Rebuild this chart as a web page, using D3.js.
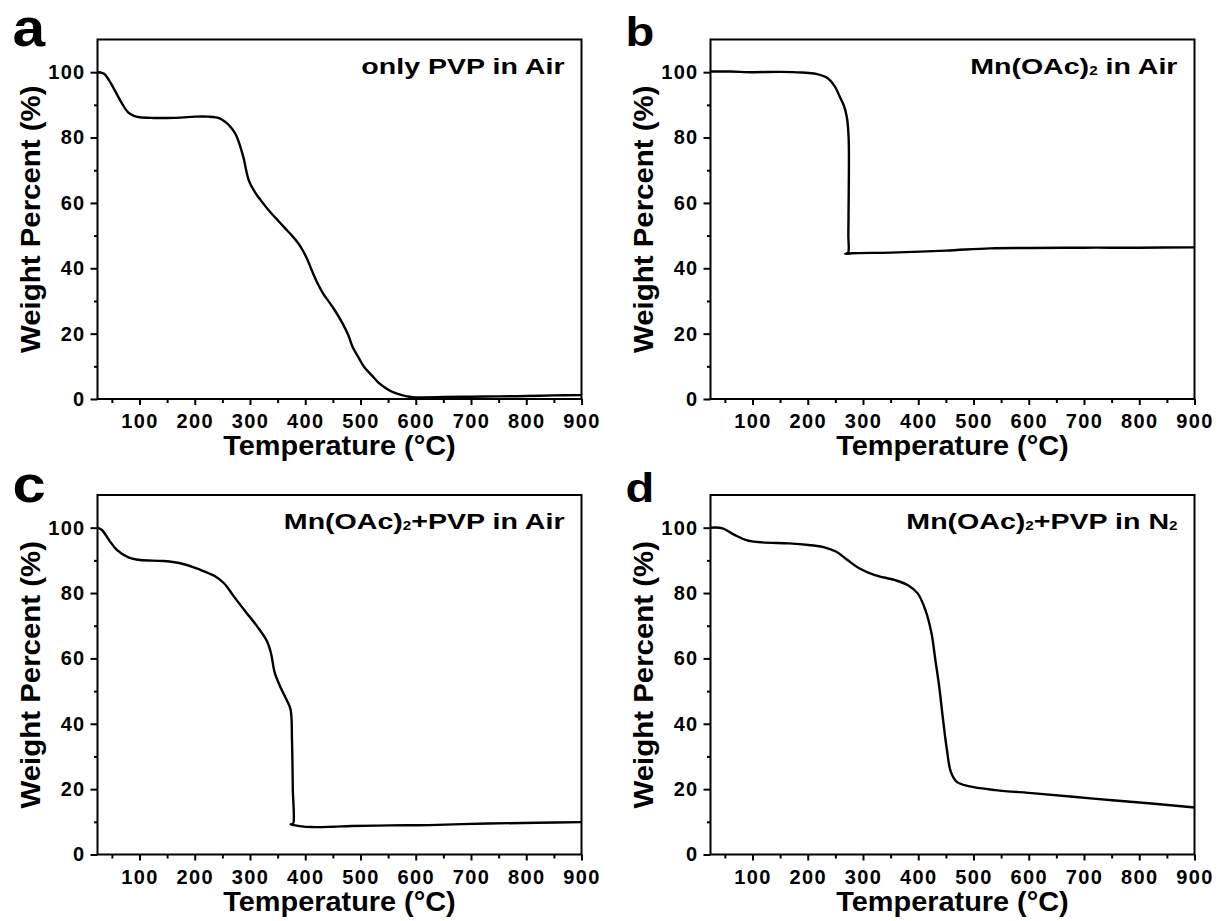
<!DOCTYPE html>
<html>
<head>
<meta charset="utf-8">
<script src="https://cdn.jsdelivr.net/npm/d3@7"></script>
<style>
  body { margin: 0; background: #fff; }
  text { font-family: "Liberation Sans", Arial, sans-serif; font-weight: bold; fill: #000; }
</style>
</head>
<body>
<div id="chart"></div>
<script>
// TGA curves: temperature (°C) vs weight percent (%)
const pvpAirTemp = [24, 30, 36, 45, 57, 68, 79, 90, 100, 125, 150, 175, 200, 225, 245, 256, 266, 274, 281, 288, 298, 310, 320, 335, 348, 362, 376, 388, 394, 403, 412, 422, 433, 444, 454, 468, 478, 486, 497, 507, 520, 532, 546, 560, 575, 589, 600, 610, 650, 700, 750, 800, 850, 900];
const pvpAirWeight = [100, 99.9, 99.5, 97.5, 93.9, 90.5, 87.8, 86.6, 86.2, 86.0, 86.0, 86.1, 86.4, 86.4, 85.9, 84.7, 83, 81, 78, 74, 66.8, 63, 60.7, 57.5, 55.1, 52.5, 50, 47.5, 45.9, 43, 39.3, 35.5, 32.1, 29.5, 27, 23, 19.5, 15.8, 12.5, 9.7, 7.3, 5.1, 3.3, 2, 1.2, 0.7, 0.5, 0.5, 0.6, 0.7, 0.8, 0.9, 1.1, 1.2];

const mnAirTemp = [24, 60, 100, 150, 190, 215, 235, 248, 258, 266, 271, 274, 274.5, 274, 273.5, 273, 268, 280, 350, 450, 530, 600, 700, 800, 900];
const mnAirWeight = [100.2, 100.2, 100, 100.1, 99.9, 99.5, 98.3, 95.9, 92.5, 89.5, 86, 80, 70, 60, 50, 44.8, 44.4, 44.6, 44.8, 45.4, 46.1, 46.2, 46.3, 46.3, 46.4];

const mnPvpAirTemp = [24, 32, 45, 59, 80, 101, 144, 179, 207, 236, 253, 271, 292, 313, 331, 338, 345, 356, 366, 373.5, 376, 377.5, 378.5, 376, 373.5, 390, 412, 450, 483, 554, 624, 730, 820, 900];
const mnPvpAirWeight = [100, 99.3, 96.2, 93.2, 90.9, 90.1, 89.8, 88.9, 87.3, 85.2, 83, 78.9, 74.3, 69.8, 65.2, 61.6, 55.5, 50.9, 47.4, 44.3, 35, 20, 9.7, 9.3, 9.2, 8.7, 8.4, 8.5, 8.7, 8.9, 9.0, 9.5, 9.7, 9.9];

const mnPvpN2Temp = [24, 46, 67.5, 88.7, 117, 166, 201.6, 230, 251, 272, 293, 321.5, 357, 381.5, 399, 413, 424, 431, 438, 445, 452, 459, 470, 491, 540, 611, 717, 822, 900];
const mnPvpN2Weight = [100, 99.8, 97.8, 96.2, 95.5, 95.2, 94.7, 94.0, 92.7, 90.1, 87.6, 85.5, 84, 82.4, 79.9, 74.8, 67.7, 59.5, 51.3, 41.1, 31.9, 25.3, 22.2, 20.9, 19.7, 18.7, 17.1, 15.6, 14.4];

const xTickValues = [100, 200, 300, 400, 500, 600, 700, 800, 900];
const xMinorValues = [50, 150, 250, 350, 450, 550, 650, 750, 850];
const yTickValues = [0, 20, 40, 60, 80, 100];
const yMinorValues = [10, 30, 50, 70, 90];

const panelLetters = ["a", "b", "c", "d"];
// note pieces: [text, isSubscript]
const panelNotes = [
    [["only PVP in Air", false]],
    [["Mn(OAc)", false], ["2", true], [" in Air", false]],
    [["Mn(OAc)", false], ["2", true], ["+PVP in Air", false]],
    [["Mn(OAc)", false], ["2", true], ["+PVP in N", false], ["2", true]]
];
const panelTemps = [pvpAirTemp, mnAirTemp, mnPvpAirTemp, mnPvpN2Temp];
const panelWeights = [pvpAirWeight, mnAirWeight, mnPvpAirWeight, mnPvpN2Weight];

const xTitle = "Temperature (°C)";
const yTitle = "Weight Percent (%)";

const plotWidth = 484, plotHeight = 359.5;
const panelOrigins = [[97.5, 39.5], [710.5, 39.5], [97.5, 495], [710.5, 495]];
const letterSizes = [51, 41, 52, 41];

const svg = d3.select("#chart").append("svg")
    .attr("width", 1217)
    .attr("height", 921);

const x = d3.scaleLinear().domain([24, 900]).range([0, plotWidth]);
const y = d3.scaleLinear().domain([0, 110]).range([plotHeight, 0]);

function drawPanel(i) {
    const [left, top] = panelOrigins[i];
    const g = svg.append("g").attr("transform", "translate(" + left + "," + top + ")");

    // minor ticks first
    g.append("g")
        .attr("transform", "translate(0," + plotHeight + ")")
        .call(d3.axisBottom(x).tickValues(xMinorValues).tickSize(4).tickFormat(""))
        .call(a => a.select(".domain").remove());
    g.append("g")
        .call(d3.axisLeft(y).tickValues(yMinorValues).tickSize(3.5).tickFormat(""))
        .call(a => a.select(".domain").remove());

    const xAxis = g.append("g")
        .attr("transform", "translate(0," + plotHeight + ")")
        .call(d3.axisBottom(x).tickValues(xTickValues).tickSize(6).tickPadding(9));
    const yAxis = g.append("g")
        .call(d3.axisLeft(y).tickValues(yTickValues).tickSize(7).tickPadding(5));

    [xAxis, yAxis].forEach(a => {
        a.select(".domain").remove();
        a.selectAll("text")
            .attr("font-family", null)
            .attr("font-size", 20)
            .attr("letter-spacing", "1.3px")
            .attr("fill", "#000");
    });
    g.selectAll(".tick line").attr("stroke", "#000").attr("stroke-width", 2);

    // frame
    g.append("rect")
        .attr("width", plotWidth)
        .attr("height", plotHeight)
        .attr("fill", "none")
        .attr("stroke", "#000")
        .attr("stroke-width", 2);

    const pts = panelTemps[i].map((t, k) => [t, panelWeights[i][k]]);
    const line = d3.line()
        .x(d => x(d[0]))
        .y(d => y(d[1]))
        .curve(d3.curveCatmullRom.alpha(0.5));
    g.append("path")
        .attr("d", line(pts))
        .attr("fill", "none")
        .attr("stroke", "#000")
        .attr("stroke-width", 2.4)
        .attr("stroke-linejoin", "round");

    // axis titles
    g.append("text")
        .attr("transform", "translate(" + plotWidth / 2 + "," + (plotHeight + 56) + ") scale(1.07,1)")
        .attr("text-anchor", "middle")
        .attr("font-size", 27)
        .text(xTitle);
    g.append("text")
        .attr("transform", "translate(-58," + plotHeight / 2 + ") rotate(-90) scale(1.07,1)")
        .attr("text-anchor", "middle")
        .attr("font-size", 27.5)
        .text(yTitle);

    // note in top right corner
    const note = g.append("text")
        .attr("transform", "translate(" + (plotWidth - 17) + ",34) scale(1.27,1)")
        .attr("text-anchor", "end")
        .attr("font-size", 22.5);
    let shifted = false;
    panelNotes[i].forEach(([txt, sub]) => {
        const ts = note.append("tspan").text(txt);
        if (sub) {
            ts.attr("font-size", 12).attr("dy", 1);
            shifted = true;
        } else if (shifted) {
            ts.attr("dy", -1);
            shifted = false;
        }
    });

    // panel letter
    svg.append("text")
        .attr("transform", "translate(" + (left - 85) + "," + (top + 6.5) + ") scale(1.15,1)")
        .attr("font-size", letterSizes[i])
        .text(panelLetters[i]);
}

for (let i = 0; i < 4; i++) drawPanel(i);
</script>
</body>
</html>
